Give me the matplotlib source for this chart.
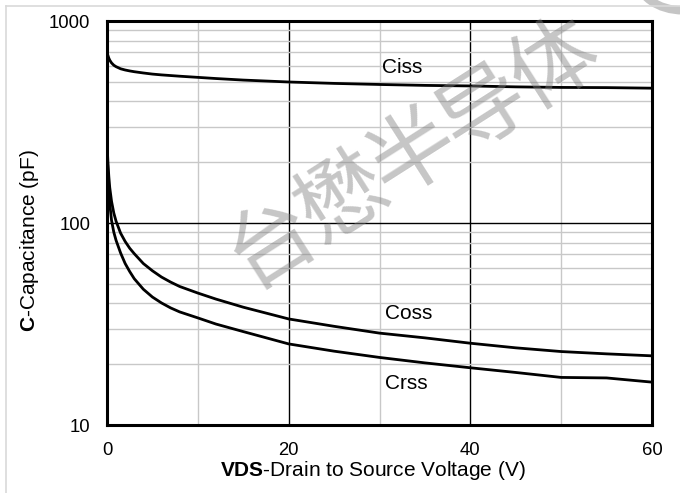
import matplotlib
matplotlib.use('Agg')
import matplotlib.pyplot as plt
from matplotlib.patches import Circle
from matplotlib.lines import Line2D
from matplotlib.ticker import FixedLocator, NullFormatter, FixedFormatter

plt.rcParams['font.family'] = ['Liberation Sans', 'DejaVu Sans']
plt.rcParams['mathtext.fontset'] = 'custom'
plt.rcParams['mathtext.rm'] = 'Liberation Sans'
plt.rcParams['mathtext.bf'] = 'Liberation Sans:bold'

# ── Data ───────────────────────────────────────────────────────────────────────
vds  = [0, 0.1, 0.2, 0.3, 0.5, 0.75, 1, 1.5, 2, 2.5, 3, 4, 5, 6, 7, 8, 10, 12, 15,
        20, 25, 30, 35, 40, 45, 50, 55, 60]
ciss = [700, 675, 655, 640, 620, 604, 594, 580, 572, 566, 561, 553, 546, 541, 537, 533, 526, 519, 510,
        499, 491, 485, 480, 477, 472, 469, 468, 465]
coss = [250, 200, 170, 150, 128, 112, 102, 89, 81, 75, 70.5, 63, 58, 54, 51, 48.5, 45, 42, 38.3,
        33.5, 30.8, 28.5, 27.0, 25.4, 24.1, 23.1, 22.5, 22.0]
crss = [250, 175, 145, 125, 103, 90, 82, 71, 63, 57.5, 53, 47, 43, 40.2, 38, 36.3, 33.9, 31.6, 29.0,
        25.2, 23.2, 21.6, 20.3, 19.2, 18.2, 17.2, 17.1, 16.3]

x_ticks = [0, 20, 40, 60]
x_minor = [10, 30, 50]
y_ticks = [10, 100, 1000]
y_minor = [m * d for d in (10, 100) for m in range(2, 10)]

labels = [('Ciss', 30.3, 590), ('Coss', 30.6, 35.8), ('Crss', 30.6, 16.0)]

watermark = '台懋半导体'

# ── Figure ─────────────────────────────────────────────────────────────────────
fig = plt.figure(figsize=(6.8, 4.93), dpi=100)
ax = fig.add_axes([107 / 680, 1 - 425 / 493, 545 / 680, 404 / 493])

ax.set_yscale('log')
ax.set_xlim(0, 60)
ax.set_ylim(10, 1000)

ax.xaxis.set_major_locator(FixedLocator(x_ticks))
ax.xaxis.set_minor_locator(FixedLocator(x_minor))
ax.yaxis.set_major_locator(FixedLocator(y_ticks))
ax.yaxis.set_major_formatter(FixedFormatter([str(v) for v in y_ticks]))
ax.yaxis.set_minor_locator(FixedLocator(y_minor))
ax.yaxis.set_minor_formatter(NullFormatter())

ax.grid(which='minor', color='#c8c8c8', lw=1.0, zorder=0)
ax.grid(which='major', color='black', lw=1.0, zorder=0)
ax.set_axisbelow(True)
ax.tick_params(which='both', length=0, labelsize=13.3, pad=12)

for s in ax.spines.values():
    s.set_linewidth(2.2)
    s.set_color('black')

for y in (ciss, coss, crss):
    ax.plot(vds, y, color='black', lw=2.0, zorder=3, solid_capstyle='butt')

for txt, x, y in labels:
    ax.text(x, y, txt, fontsize=15, ha='left', va='center', zorder=4)

ax.set_xlabel(r'$\mathbf{VDS}$-Drain to Source Voltage (V)', fontsize=15)
ax.set_ylabel(r'$\mathbf{C}$-Capacitance (pF)', fontsize=15)
ax.xaxis.set_label_coords((373 - 107) / 545, -(470 - 425) / 404)
ax.yaxis.set_label_coords((30 - 107) / 545, (425 - 241) / 404)
ax.xaxis.label.set_va('center')
ax.yaxis.label.set_va('center')

# outer light frame (top and left edges visible)
fig.add_artist(Line2D([6 / 680, 1], [1 - 6 / 493] * 2, color='#d9d9d9', lw=1.2))
fig.add_artist(Line2D([6 / 680] * 2, [0, 1 - 6 / 493], color='#d9d9d9', lw=1.2))

# watermark: one glyph at a time along a diagonal (pixel centres, first -> last)
x0, y0, x1, y1 = 272, 244, 555, 66
n = len(watermark)
for i, ch in enumerate(watermark):
    px = x0 + (x1 - x0) * i / (n - 1)
    py = y0 + (y1 - y0) * i / (n - 1)
    fig.text(px / 680, 1 - py / 493, ch, family=['Noto Sans CJK SC'],
             fontsize=63, color='#808080', alpha=0.45, rotation=32.5,
             ha='center', va='center', rotation_mode='anchor', zorder=10)
fig.add_artist(Circle((683 / 680, 1 + 23 / 493), 46 / 680, transform=fig.transFigure,
                      fill=False, ec='#808080', alpha=0.45, lw=6))

fig.savefig('out.png', dpi=100)
